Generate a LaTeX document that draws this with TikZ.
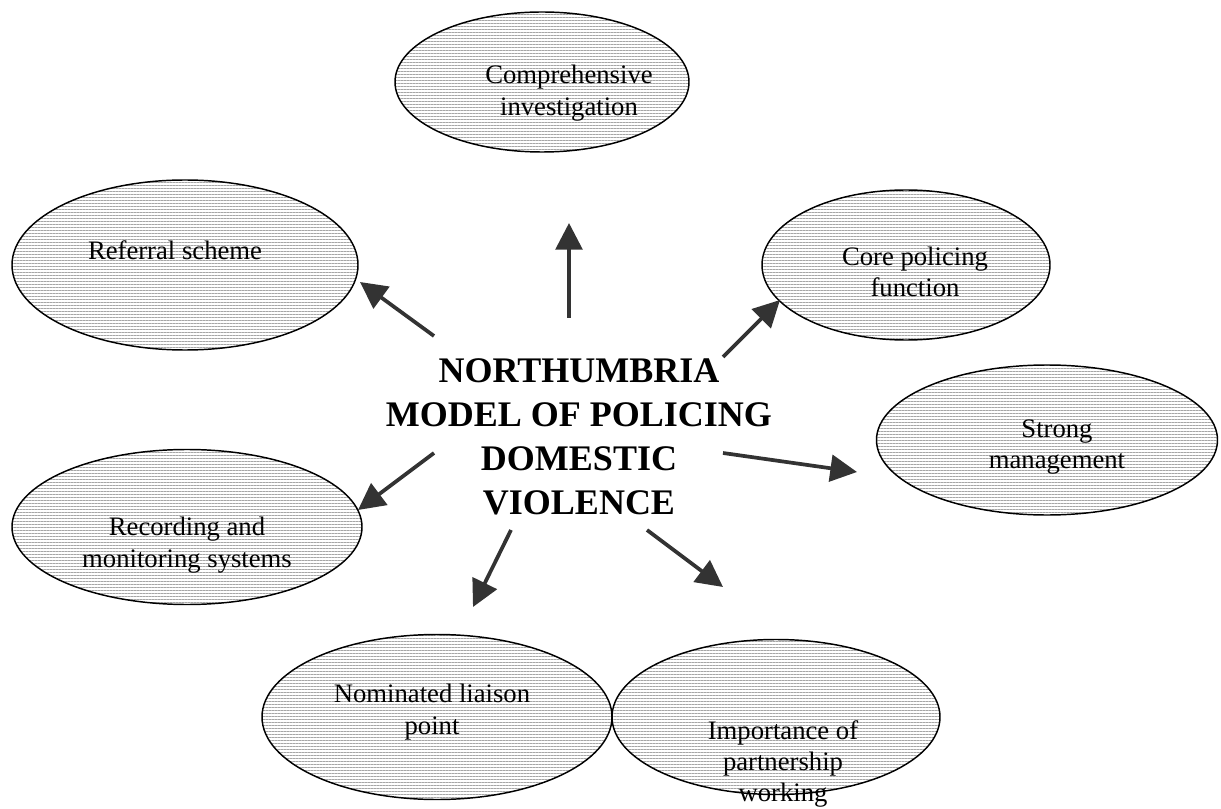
\documentclass[tikz,border=0pt]{standalone}
\usepackage{fontspec}
\setmainfont{Liberation Serif}
\usetikzlibrary{shapes.geometric,patterns.meta,arrows.meta}
\begin{document}
\begin{tikzpicture}[x=0.75pt, y=-0.75pt, line join=round,
	bub/.style={ellipse, draw, line width=1.1pt, inner sep=0pt,
		pattern={Lines[angle=0,distance=2.25pt,line width=0.45pt]}, pattern color=gray!70},
	lab/.style={font=\fontsize{20}{23.5}\selectfont, align=center},
	arr/.style={-{Triangle[length=20pt,width=20pt]}, line width=2.8pt, draw=black!80}]
	\useasboundingbox (0,0) rectangle (1221,809);
	% ovals
	\foreach \n/\x/\y/\w/\h in {comp/542/82/294/140, refr/185/265/346/170, core/906/265/288/150,
		strong/1047/440/341/150, rec/187/527/350/155, nom/437/717/350/165, part/776/717/328/155}
		\node[bub, minimum width={\w*0.75pt}, minimum height={\h*0.75pt}] (\n) at (\x,\y) {};
	% oval texts
	\foreach \n/\x/\y/\t in {comp/569/93/{Comprehensive\\investigation}, refr/175/250/{Referral scheme},
		core/915/272/{Core policing\\function}, strong/1057/447/{Strong\\management},
		rec/187/545/{Recording and\\monitoring systems}, nom/432/712/{Nominated liaison\\point},
		part/783/764/{Importance of\\partnership\\working}}
		\node[lab] (\n-t) at (\x,\y) {\t};
	\node[font=\fontsize{27}{33}\selectfont\bfseries, align=center] (ndv) at (579,437)
		{NORTHUMBRIA\\MODEL OF POLICING\\DOMESTIC\\VIOLENCE};
	\path
	(569,318) coordinate (a1) (569,223) coordinate (b1)
	(434,336) coordinate (a2) (360,282) coordinate (b2)
	(723,357) coordinate (a3) (780,300) coordinate (b3)
	(723,453) coordinate (a4) (857,472) coordinate (b4)
	(434,453) coordinate (a5) (358,510) coordinate (b5)
	(511,530) coordinate (a6) (473,607) coordinate (b6)
	(647,530) coordinate (a7) (723,587) coordinate (b7);
	\foreach \i in {1,...,7} \draw[arr] (a\i) -- (b\i);
\end{tikzpicture}
\end{document}
